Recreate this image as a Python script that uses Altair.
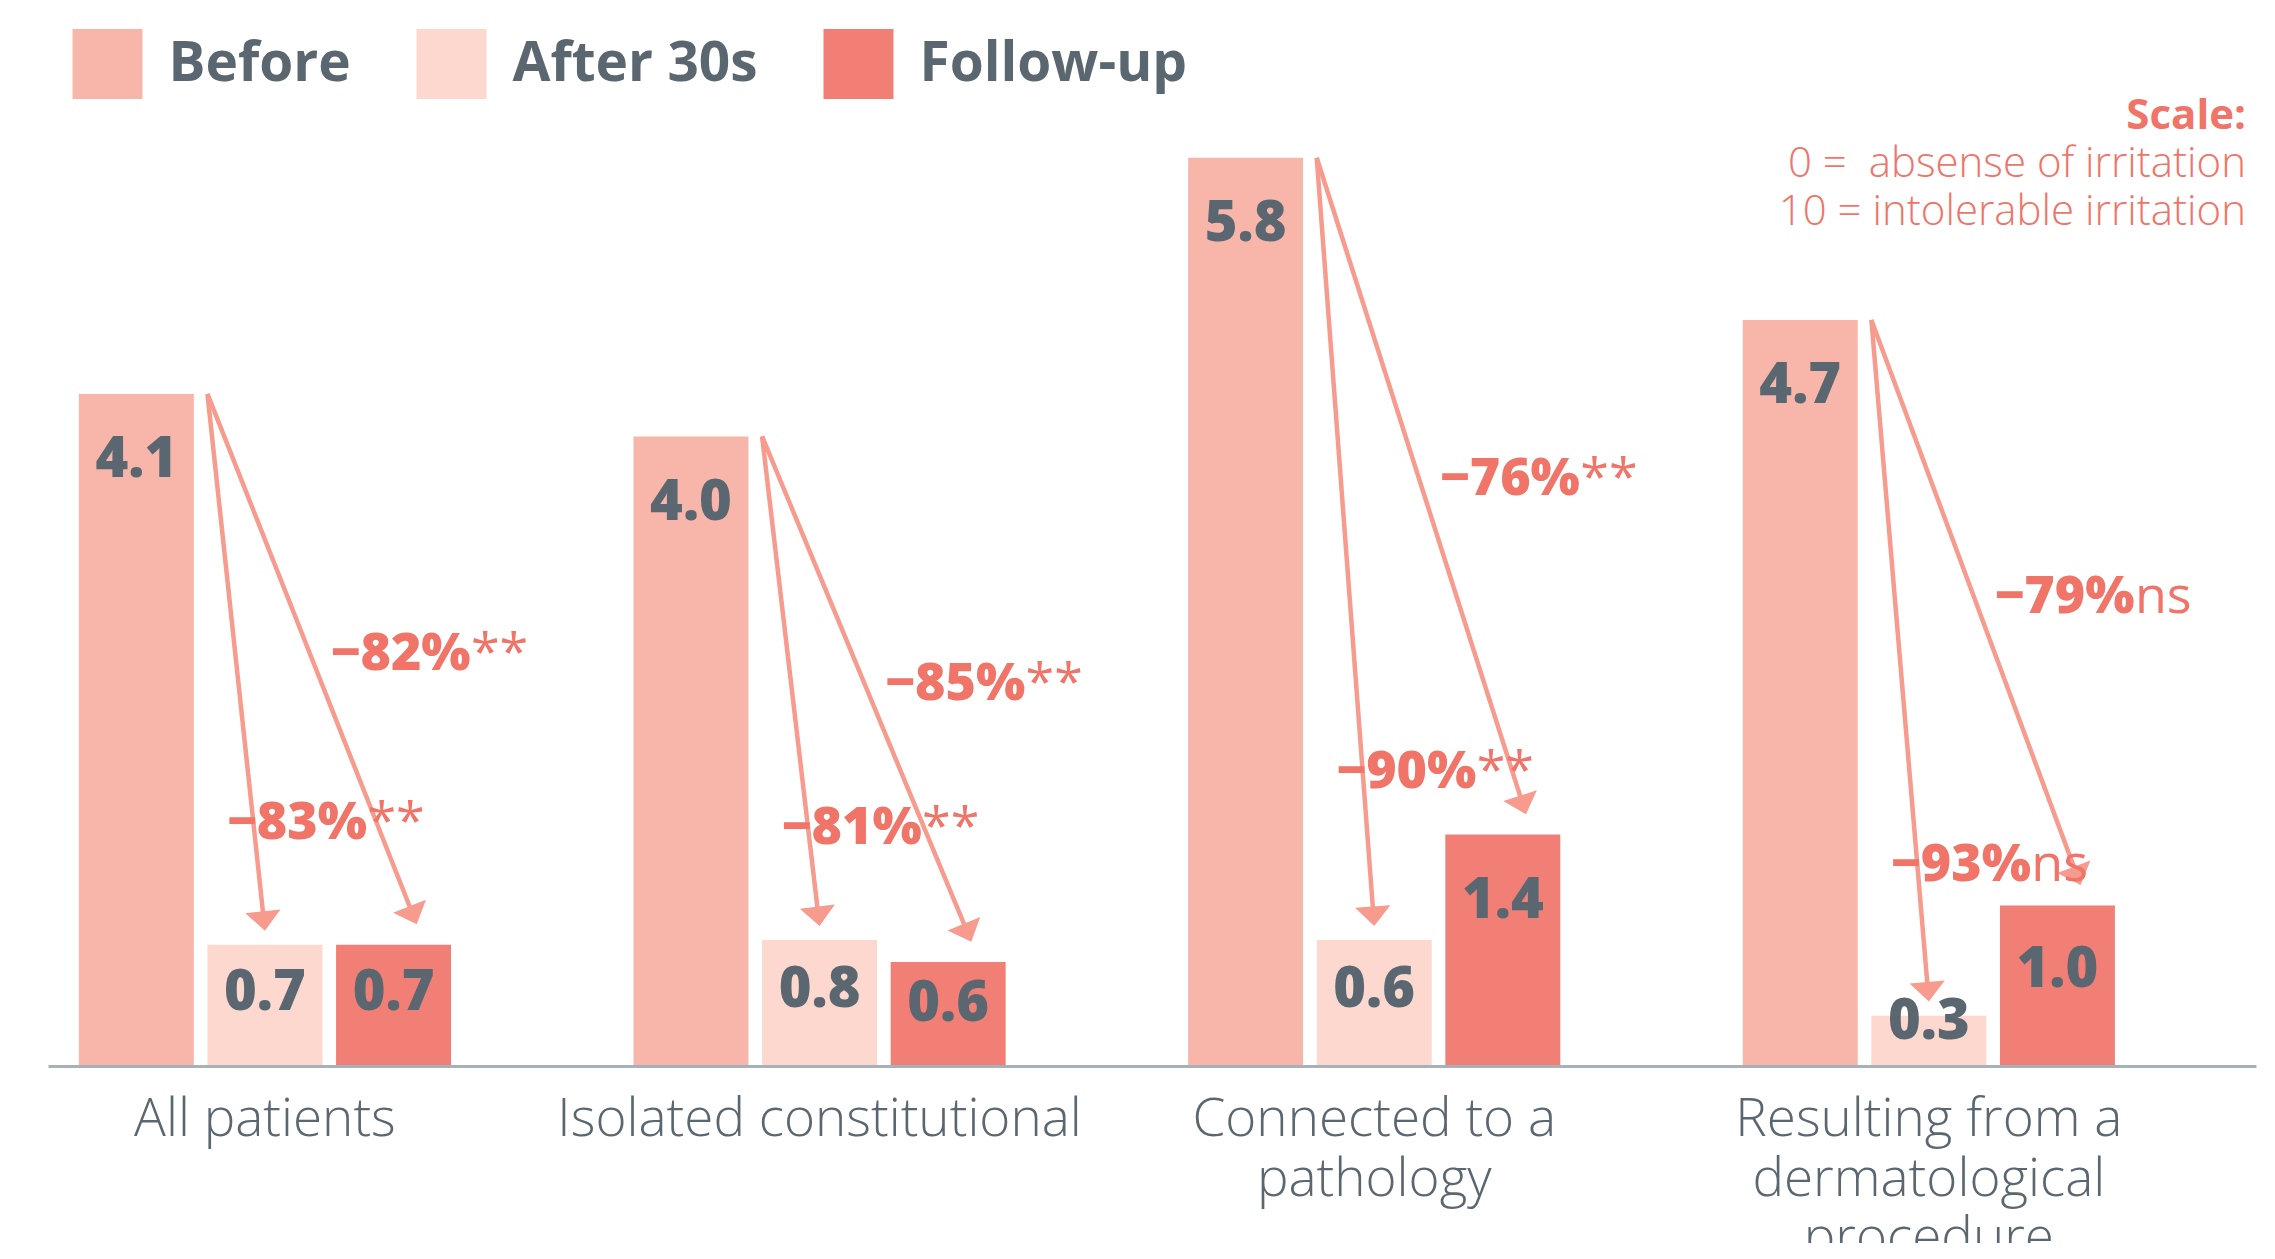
import math
import altair as alt
import pandas as pd

# ---------------- data ----------------
categories = ["All patients", "Isolated constitutional",
              "Connected to a\npathology",
              "Resulting from a\ndermatological\nprocedure"]
series = ["Before", "After 30s", "Follow-up"]
# bar heights (irritation score)
before = [4.27, 4.00, 5.77, 4.74]
after30 = [0.77, 0.80, 0.80, 0.32]
followup = [0.77, 0.66, 1.47, 1.02]
# printed value labels
before_labels = ["4.1", "4.0", "5.8", "4.7"]
after_labels = ["0.7", "0.8", "0.6", "0.3"]
follow_labels = ["0.7", "0.6", "1.4", "1.0"]
# change annotations
after_change = ["\u221283%", "\u221281%", "\u221290%", "\u221293%"]
after_sig = ["**", "**", "**", "ns"]
follow_change = ["\u221282%", "\u221285%", "\u221276%", "\u221279%"]
follow_sig = ["**", "**", "**", "ns"]
scale_title = "Scale:"
scale_lines = ["0 = \u00a0absense of irritation", "10 = intolerable irritation"]

# ---------------- style / layout ----------------
C_BEFORE, C_AFTER, C_FOLLOW = "#F8B6AA", "#FCD8CF", "#F27F75"
C_ARROW = "#F69B8E"
C_PCT = "#F07468"
C_DARK = "#5B6770"
C_AXIS = "#A7B2B8"
W, H = 2208, 958
PX_X, PX_Y = 128.6, 157.4
GROUP_STEP = 4.313
BAR_HALF = 0.447
X_DOMAIN = [-0.687, 16.483]
Y_MAX = H / PX_Y

# ---------------- tables ----------------
heights = [before, after30, followup]
labels = [before_labels, after_labels, follow_labels]
rows = []
for g in range(len(categories)):
    for j, s in enumerate(series):
        u = g * GROUP_STEP + j
        h = heights[j][g]
        rows.append(dict(series=s, u=u, x0=u - BAR_HALF, x1=u + BAR_HALF, h=h,
                         label=labels[j][g],
                         ly=max(h - 0.42, 0.6 * h, 0.28)))
bars_df = pd.DataFrame(rows)

arr = []
for g in range(len(categories)):
    xs = g * GROUP_STEP + 1 - BAR_HALF
    ys = before[g]
    for j, tgt, chg, sig, t, ldx, tipdx, gap in [
        (1, after30[g], after_change[g], after_sig[g], 0.80, -26, 0.0, 0.09),
        (2, followup[g], follow_change[g], follow_sig[g], 0.49, 21, 0.18, 0.13),
    ]:
        xt = g * GROUP_STEP + j + tipdx
        yt = tgt + gap
        dxp = (xt - xs) * PX_X
        dyp = (ys - yt) * PX_Y
        L = math.hypot(dxp, dyp)
        ang = math.degrees(math.atan2(-dxp, dyp)) % 360
        xe = xt - (dxp / L * 10) / PX_X
        ye = yt + (dyp / L * 10) / PX_Y
        lx = xs + t * (xt - xs) + ldx / PX_X
        ly = ys + t * (yt - ys)
        arr.append(dict(xs=xs, ys=ys, xt=xt, yt=yt, xe=xe, ye=ye, ang=ang,
                        lx=lx, ly=ly, sx=lx + 140 / PX_X, chg=chg, sig=sig))
arrows_df = pd.DataFrame(arr)

cat_df = pd.DataFrame(dict(name=categories,
                           cx=[g * GROUP_STEP + 1 for g in range(len(categories))]))

xscale = alt.Scale(domain=X_DOMAIN, nice=False, zero=False)
yscale = alt.Scale(domain=[0, Y_MAX], nice=False)
xaxis = alt.Axis(labels=False, ticks=False, grid=False, title=None,
                 domainColor=C_AXIS, domainWidth=3, zindex=1)

base_bars = alt.Chart(bars_df)
bars = base_bars.mark_bar(opacity=1).encode(
    x=alt.X("x0:Q", scale=xscale, axis=xaxis),
    x2="x1:Q",
    y=alt.Y("h:Q", scale=yscale, axis=None),
    y2=alt.datum(0),
    color=alt.Color("series:N",
                    scale=alt.Scale(domain=series, range=[C_BEFORE, C_AFTER, C_FOLLOW]),
                    legend=alt.Legend(orient="none", legendX=24.5, legendY=-79,
                                      direction="horizontal", title=None,
                                      symbolType="square", symbolSize=4900,
                                      symbolStrokeWidth=0, symbolOpacity=1,
                                      labelFont="Open Sans", labelFontWeight="bold",
                                      labelFontSize=55, labelColor=C_DARK,
                                      labelOffset=26, columnPadding=65, padding=0,
                                      labelLimit=500)),
)
values = base_bars.mark_text(font="Open Sans", fontWeight=800, fontSize=56,
                             color=C_DARK, baseline="middle", align="center").encode(
    x=alt.X("u:Q", scale=xscale), y=alt.Y("ly:Q", scale=yscale), text="label:N")

base_arr = alt.Chart(arrows_df)
shafts = base_arr.mark_rule(strokeWidth=4.5, color=C_ARROW).encode(
    x=alt.X("xs:Q", scale=xscale), y=alt.Y("ys:Q", scale=yscale),
    x2="xe:Q", y2="ye:Q")
heads = base_arr.mark_point(shape="M0,0L-1,-1.1L1,-1.1Z", filled=True, size=1250,
                            color=C_ARROW, opacity=1, strokeWidth=0).encode(
    x=alt.X("xt:Q", scale=xscale), y=alt.Y("yt:Q", scale=yscale),
    angle=alt.Angle("ang:Q", scale=None))
pct = base_arr.mark_text(font="Open Sans", fontWeight=800, fontSize=52,
                         color=C_PCT, align="left", baseline="middle").encode(
    x=alt.X("lx:Q", scale=xscale), y=alt.Y("ly:Q", scale=yscale), text="chg:N")
sig = base_arr.mark_text(font="Open Sans", fontWeight="normal", fontSize=52,
                         color=C_PCT, align="left", baseline="middle").encode(
    x=alt.X("sx:Q", scale=xscale), y=alt.Y("ly:Q", scale=yscale), text="sig:N")

cats = alt.Chart(cat_df).mark_text(font="Open Sans", fontWeight=300, fontSize=53,
                                   color=C_DARK, baseline="top", align="center",
                                   lineBreak="\n", lineHeight=59.5).encode(
    x=alt.X("cx:Q", scale=xscale), y=alt.value(H + 28), text="name:N")

note_df = pd.DataFrame(dict(t=[scale_title]))
note_title = alt.Chart(note_df).mark_text(font="Open Sans", fontWeight="bold",
                                          fontSize=42, color=C_PCT, align="right",
                                          baseline="middle").encode(
    x=alt.value(W - 10), y=alt.value(8), text="t:N")
note_l1 = alt.Chart(pd.DataFrame(dict(t=[scale_lines[0]]))).mark_text(
    font="Open Sans", fontWeight=300, fontSize=42, color=C_PCT, align="right",
    baseline="middle").encode(x=alt.value(W - 10), y=alt.value(56), text="t:N")
note_l2 = alt.Chart(pd.DataFrame(dict(t=[scale_lines[1]]))).mark_text(
    font="Open Sans", fontWeight=300, fontSize=42, color=C_PCT, align="right",
    baseline="middle").encode(x=alt.value(W - 10), y=alt.value(104), text="t:N")

chart = alt.layer(bars, values, shafts, heads, pct, sig, cats,
                  note_title, note_l1, note_l2).properties(
    width=W, height=H,
    padding={"left": 40, "top": 100, "right": 11, "bottom": 177},
    autosize="none",
).configure_view(stroke=None)

chart.save("out.html", embed_options={"renderer": "svg", "actions": False})
